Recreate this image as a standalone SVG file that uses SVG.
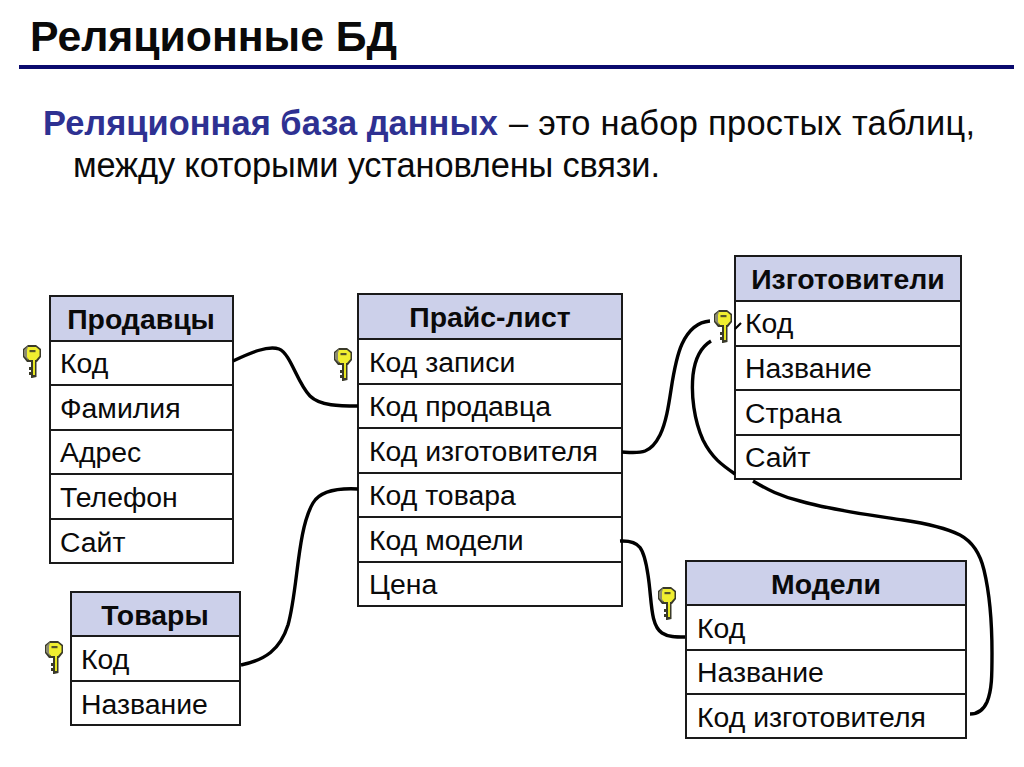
<svg xmlns="http://www.w3.org/2000/svg" width="1024" height="767" viewBox="0 0 1024 767">
<style>
text{font-family:"Liberation Sans",Arial,sans-serif;fill:#0a0a0a}
.t{font-size:28.4px}
.h{font-size:28.4px;font-weight:700;text-anchor:middle}
.s{font-size:34.4px}
.b{fill:#fff;stroke:#1a1a1a;stroke-width:2}
.hd{fill:#ccd0ea;stroke:#1a1a1a;stroke-width:2}
.l{stroke:#1a1a1a;stroke-width:2}
.c{fill:none;stroke:#000;stroke-width:3.4;stroke-linecap:butt}
</style>
<defs>
<g id="key">
<path d="M5 0H13L18 4V12L14 17H13.500V32L9 33H8V30H6V27H8V25H6V22H8V17H4L0 12V4Z" fill="#3a3a2a"/>
<path d="M1 5L5 1V15L1 11Z" fill="#8a8a70"/>
<path d="M5 2H13L16.500 5V11L13 15H12V30H10V15H6L4 12V5Z" fill="#f0ee30"/>
<path d="M10 17H12V30H10Z" fill="#e8e820"/>
<rect x="6.500" y="5" width="6" height="2.200" fill="#55552a"/>
</g>
</defs>
<rect width="1024" height="767" fill="#fff"/>
<text x="30" y="51" style="font-size:42.800px;font-weight:700" textLength="367">Реляционные БД</text>
<rect x="19" y="65" width="995" height="4" fill="#0a0a6e"/>
<text class="s" x="43" y="135" font-weight="700" style="fill:#2e3192" textLength="455">Реляционная база данных</text>
<text class="s" x="509" y="135" textLength="466">– это набор простых таблиц,</text>
<text class="s" x="73" y="177" textLength="587">между которыми установлены связи.</text>

<g id="prodavtsy">
<rect class="hd" x="50" y="296" width="183" height="45"/>
<rect class="b" x="50" y="341" width="183" height="222"/>
<path class="l" d="M50 385H233M50 430H233M50 474H233M50 519H233"/>
<text class="h" x="141" y="329">Продавцы</text>
<text class="t" x="60" y="373">Код</text><text class="t" x="60" y="418">Фамилия</text><text class="t" x="60" y="462">Адрес</text><text class="t" x="60" y="507">Телефон</text><text class="t" x="60" y="552">Сайт</text>
<use href="#key" x="23" y="345"/>
</g>
<g id="tovary">
<rect class="hd" x="71" y="592" width="169" height="44"/>
<rect class="b" x="71" y="636" width="169" height="89"/>
<path class="l" d="M71 681H240"/>
<text class="h" x="155" y="625">Товары</text>
<text class="t" x="81" y="669">Код</text><text class="t" x="81" y="714">Название</text>
<use href="#key" x="45" y="641"/>
</g>
<g id="price">
<rect class="hd" x="358" y="294" width="264" height="45"/>
<rect class="b" x="358" y="339" width="264" height="267"/>
<path class="l" d="M358 384H622M358 428H622M358 473H622M358 517H622M358 562H622"/>
<text class="h" x="490" y="327">Прайс-лист</text>
<text class="t" x="369" y="372">Код записи</text><text class="t" x="369" y="416">Код продавца</text><text class="t" x="369" y="461">Код изготовителя</text><text class="t" x="369" y="505">Код товара</text><text class="t" x="369" y="550">Код модели</text><text class="t" x="369" y="594">Цена</text>
<use href="#key" x="334" y="348"/>
</g>
<g id="izgotoviteli">
<rect class="hd" x="735" y="256" width="226" height="45"/>
<rect class="b" x="735" y="301" width="226" height="178"/>
<path class="l" d="M735 346H961M735 390H961M735 435H961"/>
<text class="h" x="848" y="289">Изготовители</text>
<text class="t" x="745" y="333">Код</text><text class="t" x="745" y="378">Название</text><text class="t" x="745" y="423">Страна</text><text class="t" x="745" y="467">Сайт</text>
<use href="#key" x="714" y="310"/>
</g>
<g id="modeli">
<rect class="hd" x="686" y="561" width="280" height="44"/>
<rect class="b" x="686" y="605" width="280" height="133"/>
<path class="l" d="M686 650H966M686 694H966"/>
<text class="h" x="826" y="594">Модели</text>
<text class="t" x="697" y="638">Код</text><text class="t" x="697" y="682">Название</text><text class="t" x="697" y="727">Код изготовителя</text>
<use href="#key" x="658" y="587"/>
</g>

<g id="connectors">
<path class="c" d="M233 361C250 353 268 345 279 349C291 354 297 383 310 396C320 406 340 406 358 406"/>
<path class="c" d="M622 452C640 453 650 455 660 435C672 410 670 370 682 344C688 331 697 322 710 321"/>
<path class="c" d="M741 323L735 329" style="stroke-width:2.200"/>
<path class="c" d="M241 665C265 660 280 650 288 625C298 590 297 530 313 503C320 491 338 488 358 489"/>
<path class="c" d="M620 541C640 540 644 548 648 575C652 600 650 625 662 633C668 637 676 637 685 637"/>
<path class="c" d="M711 341C701 347 695 358 693 375C691 395 694 420 703 440C712 458 722 465 735 474M753 481C768 490 780 496 800 501C830 510 870 515 903 520C930 524 948 529 960 535C973 542 980 553 984 570C990 595 992 625 992 653C992 675 992 690 987 702C983 711 977 714 970 714"/>
</g>
</svg>
